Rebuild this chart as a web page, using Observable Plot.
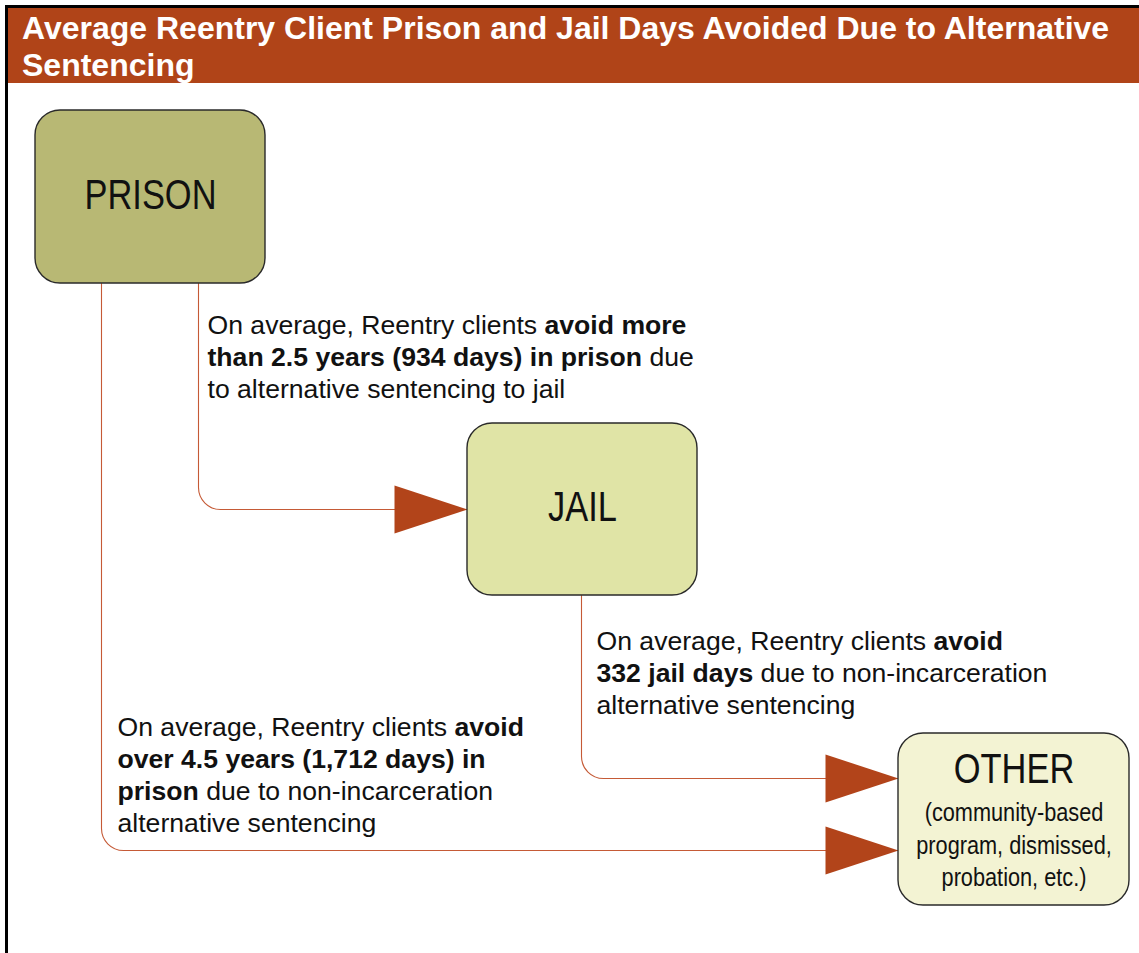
<!DOCTYPE html>
<html>
<head>
<meta charset="utf-8">
<script src="https://cdn.jsdelivr.net/npm/d3@7"></script>
<script src="https://cdn.jsdelivr.net/npm/@observablehq/plot@0.6"></script>
<style>
  html, body { margin: 0; padding: 0; background: #fff; }
  #frame {
    position: absolute; left: 5px; top: 5px; width: 1134px; height: 948px;
    box-sizing: border-box; border-left: 3px solid #000; border-top: 3px solid #000;
    overflow: hidden;
  }
  #title {
    height: 75px; box-sizing: border-box; padding-left: 14px; padding-top: 2px;
    background: #b04418; color: #fff; white-space: nowrap;
    font-family: "Liberation Sans", Arial, sans-serif; font-weight: bold;
    font-size: 32px; line-height: 37px;
  }
  #chart svg { display: block; }
</style>
</head>
<body>
<div id="frame">
  <div id="title"></div>
  <div id="chart"></div>
</div>
<script>
// ---------- content ----------
const titleLines = [
  "Average Reentry Client Prison and Jail Days Avoided Due to Alternative",
  "Sentencing"
];

const nodeNames = ["PRISON", "JAIL", "OTHER"];
const otherNote = "(community-based\nprogram, dismissed,\nprobation, etc.)";

const annotationTexts = [
  "On average, Reentry clients **avoid more**\n**than 2.5 years (934 days) in prison** due\nto alternative sentencing to jail",
  "On average, Reentry clients **avoid**\n**332 jail days** due to non-incarceration\nalternative sentencing",
  "On average, Reentry clients **avoid**\n**over 4.5 years (1,712 days) in**\n**prison** due to non-incarceration\nalternative sentencing"
];

// flows between nodes (index into nodeNames)
const flowFrom = [0, 0, 1];
const flowTo   = [1, 2, 2];

// ---------- layout (page pixel coordinates) ----------
const nodeLeft   = [35, 467, 898];
const nodeRight  = [265, 697, 1129];
const nodeTop    = [110, 423, 733];
const nodeBottom = [283, 595, 905];
const nodeLabelY = [195, 507, 769];
const noteTop = 797.5;

const flowExitX  = [198, 101, 581];   // where the connector leaves the source box
const flowEntryY = [509, 850, 778];   // where the connector reaches the target box

const annotationX = [207, 596, 117];
const annotationBaseline = [329.5, 645.5, 731.5];

// ---------- styles ----------
const nodeFill = ["#b8b874", "#e0e4a6", "#f3f3d3"];
const accent = "#b2441a";
const lineColor = "#c55a36";
const bodyFont = "'Liberation Sans', Arial, Helvetica, sans-serif";
const bodySize = 26.6;
const narrowScale = 0.82;
const CORNER_R = 22;

// ---------- title ----------
document.getElementById("title").innerHTML = titleLines.join("<br>");

// ---------- derived tables ----------
const nodes = nodeNames.map((name, i) => ({
  name, x1: nodeLeft[i], x2: nodeRight[i], y1: nodeTop[i], y2: nodeBottom[i],
  cx: (nodeLeft[i] + nodeRight[i]) / 2, ly: nodeLabelY[i], fill: nodeFill[i]
}));

const flows = flowFrom.map((f, i) => ({
  flow: i,
  sx: flowExitX[i], sy: nodeBottom[f],
  tx: nodeLeft[flowTo[i]], ty: flowEntryY[i]
}));

const flowPoints = flows.flatMap(f => [
  {flow: f.flow, x: f.sx, y: f.sy},
  {flow: f.flow, x: f.sx, y: f.ty},
  {flow: f.flow, x: f.tx, y: f.ty}
]);

const annotations = annotationTexts.map((text, i) => ({
  text, x: annotationX[i], y: annotationBaseline[i] - 0.71 * bodySize
}));

const notes = [{text: otherNote, x: nodes[2].cx, y: noteTop}];

// rounded-corner polyline curve
function roundedCurve(context) {
  let pts = [];
  return {
    areaStart() {}, areaEnd() {},
    lineStart() { pts = []; },
    point(x, y) { pts.push([+x, +y]); },
    lineEnd() {
      if (!pts.length) return;
      context.moveTo(pts[0][0], pts[0][1]);
      for (let i = 1; i < pts.length - 1; i++) {
        context.arcTo(pts[i][0], pts[i][1], pts[i + 1][0], pts[i + 1][1], CORNER_R);
      }
      const l = pts[pts.length - 1];
      context.lineTo(l[0], l[1]);
    }
  };
}

// arrowhead pointing right with its tip on the anchor point
const arrowHead = {
  draw(context) {
    context.moveTo(0, 0);
    context.lineTo(-73, -24);
    context.lineTo(-73, 24);
    context.closePath();
  }
};

const chart = Plot.plot({
  width: 1131,
  height: 870,
  margin: 0,
  x: {domain: [8, 1139], range: [0, 1131], axis: null},
  y: {domain: [83, 953], range: [0, 870], axis: null},
  color: {type: "identity"},
  style: {background: "#fff", overflow: "visible"},
  marks: [
    Plot.line(flowPoints, {x: "x", y: "y", z: "flow", stroke: lineColor, strokeWidth: 1.1, curve: roundedCurve}),
    Plot.dot(flows, {x: "tx", y: "ty", symbol: arrowHead, r: 5, fill: accent, stroke: "none"}),
    Plot.rect(nodes, {x1: "x1", x2: "x2", y1: "y1", y2: "y2", fill: "fill", stroke: "#2a2a2a", strokeWidth: 1.4, rx: 25}),
    Plot.text(nodes, {x: "cx", y: "ly", text: "name", fontSize: 42, fontFamily: bodyFont, fill: "#111", lineAnchor: "middle"}),
    Plot.text(notes, {x: "x", y: "y", text: "text", fontSize: 26.5, lineHeight: 1.226, fontFamily: bodyFont, fill: "#111", lineAnchor: "top"}),
    Plot.text(annotations, {x: "x", y: "y", text: "text", textAnchor: "start", lineAnchor: "top", fontSize: bodySize, lineHeight: 1.203, fontFamily: bodyFont, fill: "#111"})
  ]
});

// condensed look for the box labels (narrow face is not installed):
// the first two text layers are the node labels and the note inside OTHER
const textLayers = chart.querySelectorAll('g[aria-label="text"]');
[textLayers[0], textLayers[1]].forEach(g => {
  if (!g) return;
  g.querySelectorAll("text").forEach(t => {
    const tr = t.getAttribute("transform");
    if (tr) {
      t.setAttribute("transform", tr + ` scale(${narrowScale},1)`);
    } else {
      const x = +(t.getAttribute("x") || 0), y = +(t.getAttribute("y") || 0);
      t.removeAttribute("x"); t.removeAttribute("y");
      t.setAttribute("transform", `translate(${x},${y}) scale(${narrowScale},1)`);
    }
  });
});

// turn **bold** markup into bold tspans
chart.querySelectorAll("text").forEach(t => {
  const spans = t.querySelectorAll("tspan");
  const targets = spans.length ? Array.from(spans) : [t];
  targets.forEach(el => {
    const s = el.textContent;
    if (!s.includes("**")) return;
    el.textContent = "";
    s.split("**").forEach((part, k) => {
      if (!part) return;
      const ts = document.createElementNS("http://www.w3.org/2000/svg", "tspan");
      if (k % 2) ts.setAttribute("font-weight", "bold");
      ts.textContent = part;
      el.appendChild(ts);
    });
  });
});

document.getElementById("chart").appendChild(chart);
</script>
</body>
</html>
